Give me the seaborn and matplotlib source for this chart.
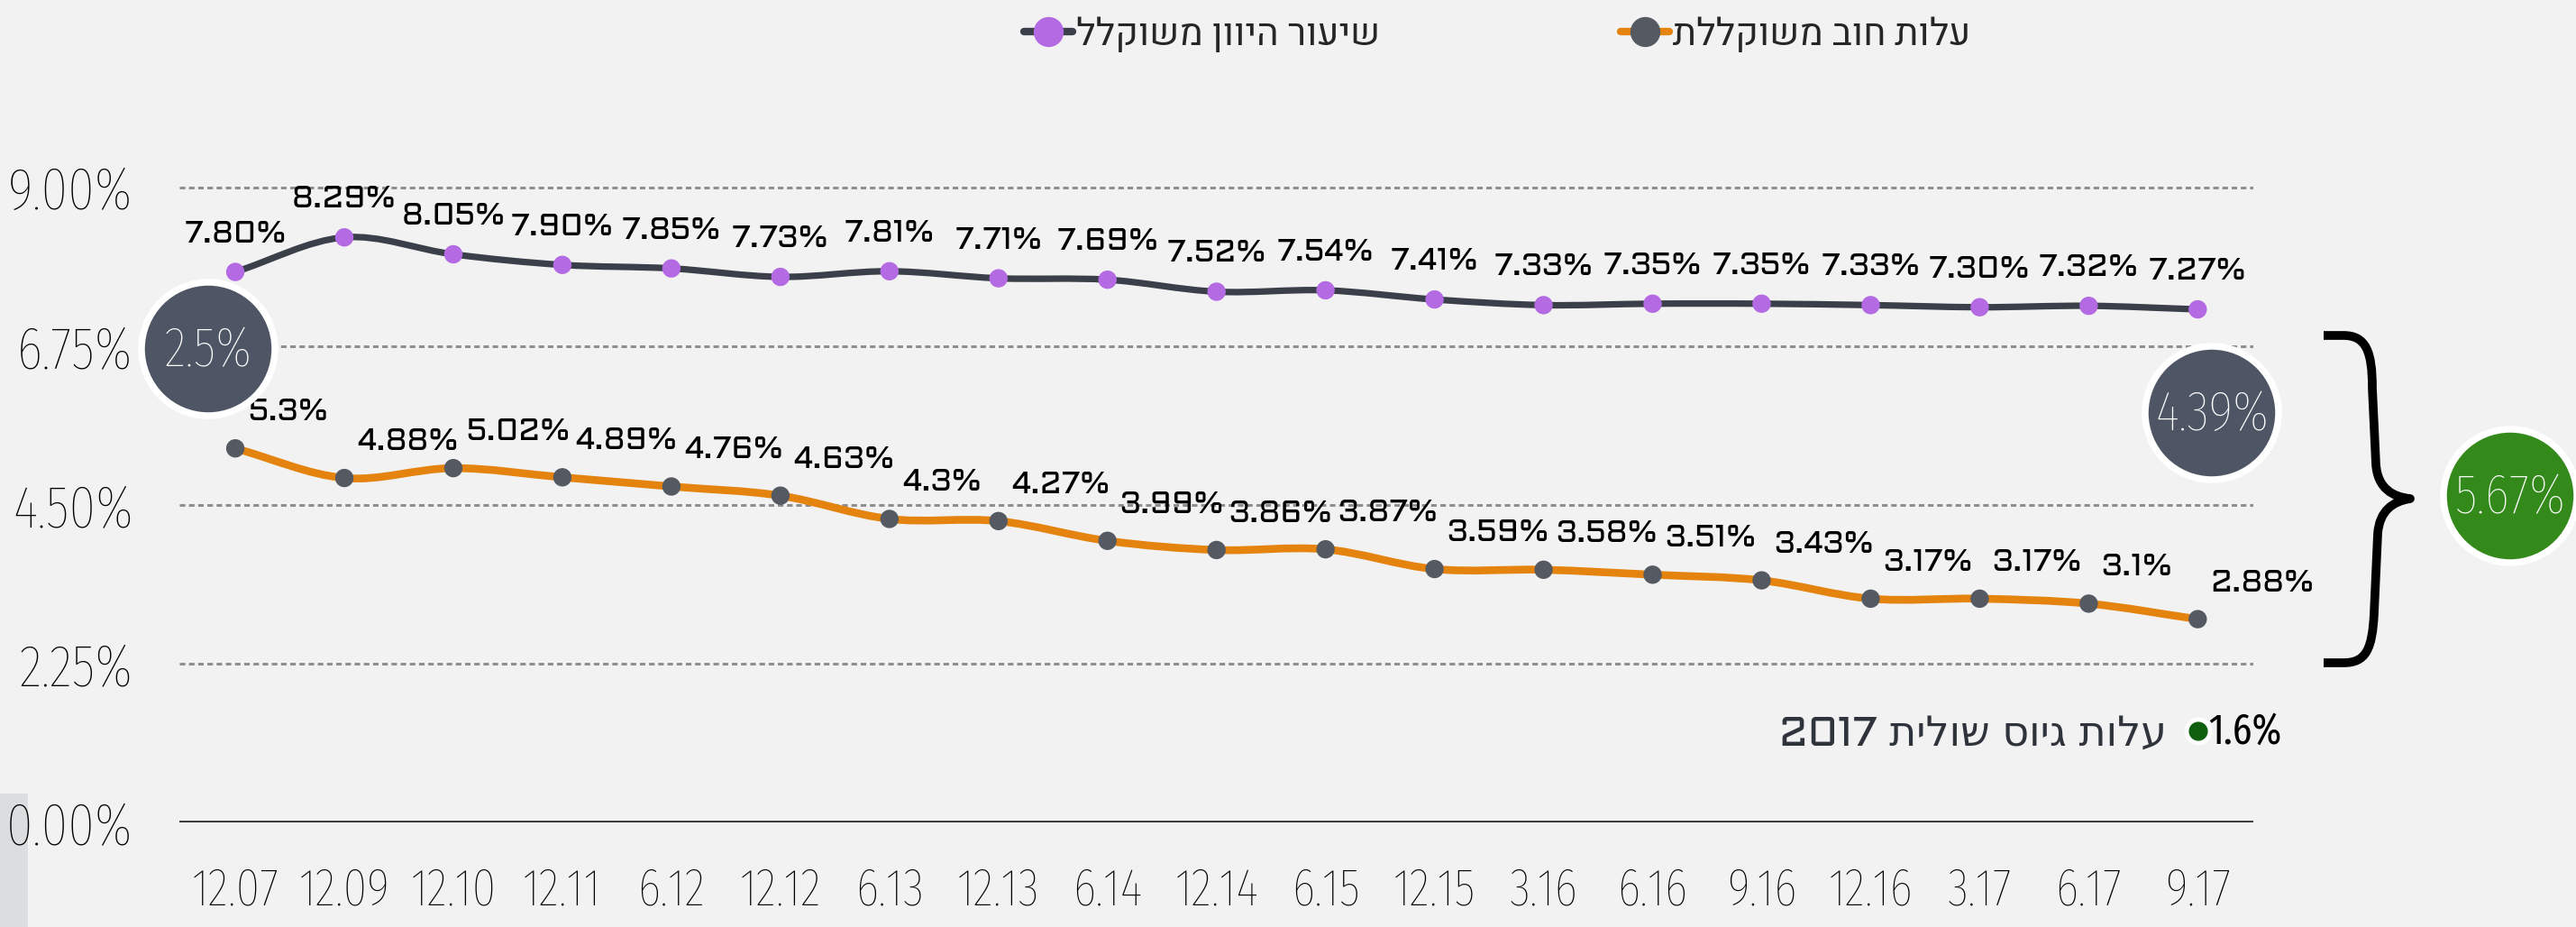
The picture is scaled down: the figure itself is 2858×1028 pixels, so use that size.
import numpy as np
import pandas as pd
import matplotlib
matplotlib.use("Agg")
import matplotlib.pyplot as plt
import seaborn as sns
from matplotlib.path import Path
from matplotlib.patches import PathPatch, Ellipse, Rectangle
from matplotlib.lines import Line2D

# data
periods = ["12.07", "12.09", "12.10", "12.11", "6.12", "12.12", "6.13", "12.13", "6.14", "12.14",
           "6.15", "12.15", "3.16", "6.16", "9.16", "12.16", "3.17", "6.17", "9.17"]
discount_rate = [7.80, 8.29, 8.05, 7.90, 7.85, 7.73, 7.81, 7.71, 7.69, 7.52,
                 7.54, 7.41, 7.33, 7.35, 7.35, 7.33, 7.30, 7.32, 7.27]
debt_cost = [5.3, 4.88, 5.02, 4.89, 4.76, 4.63, 4.3, 4.27, 3.99, 3.86,
             3.87, 3.59, 3.58, 3.51, 3.43, 3.17, 3.17, 3.1, 2.88]
yticks = [0, 2.25, 4.5, 6.75, 9]

name_rate = "שיעור היוון משוקלל"
name_debt = "עלות חוב משוקללת"
note_text = "עלות גיוס שולית"
note_year = "2017"
note_value = "1.6%"
spread_start = "2.5%"
spread_end = "4.39%"
spread_total = "5.67%"

# colours
BG = "#f2f2f2"
DARK = "#3b3f4a"
PURPLE = "#b36ae2"
ORANGE = "#e5830f"
GREYDOT = "#555a62"
BUBBLE = "#4e5564"
GREEN = "#338a1a"

COND = ["Fira Sans Extra Condensed", "Liberation Sans Narrow", "DejaVu Sans"]
SQUARE = ["Aldrich", "DejaVu Sans"]
HEB = ["Fira Sans Extra Condensed", "Heebo", "DejaVu Sans"]


def rtl(s):
    # matplotlib has no bidi support, so hand it the visual order
    return s[::-1]


df = pd.DataFrame({
    "period": periods * 2,
    "value": discount_rate + debt_cost,
    "series": ["rate"] * len(periods) + ["debt"] * len(periods),
})

W, H = 2858, 1028
fig = plt.figure(figsize=(W / 100, H / 100), dpi=100, facecolor=BG)
sns.set_style("white")


def fx(x, y):
    return (x / W, 1 - y / H)


ax = fig.add_axes([199 / W, (H - 912) / H, (2500 - 199) / W, (912 - 40) / H])
ax.set_facecolor("none")


def smooth_line(ys, color, lw, k=1 / 6):
    # catmull-rom style curve through the points
    ys = np.asarray(ys, float)
    n = len(ys)
    yp = np.concatenate([[ys[0]], ys, [ys[-1]]])
    t = (yp[2:] - yp[:-2]) / 2
    t[0] = ys[1] - ys[0]
    t[-1] = ys[-1] - ys[-2]
    verts = [(0, ys[0])]
    codes = [Path.MOVETO]
    for i in range(n - 1):
        verts += [(i + 1 / 3, ys[i] + t[i] * 2 * k), (i + 1 - 1 / 3, ys[i + 1] - t[i + 1] * 2 * k), (i + 1, ys[i + 1])]
        codes += [Path.CURVE4] * 3
    ax.add_patch(PathPatch(Path(verts, codes), fill=False, ec=color, lw=lw, capstyle="round", zorder=2))


smooth_line(discount_rate, DARK, 5.2)
smooth_line(debt_cost, ORANGE, 6.2)

sns.scatterplot(data=df, x="period", y="value", hue="series",
                palette={"rate": PURPLE, "debt": GREYDOT}, s=215, linewidth=0,
                legend=False, zorder=3, ax=ax)

for i, v in enumerate(discount_rate):
    ax.annotate(f"{v:.2f}%", (i, v), xytext=(0, 42), textcoords="offset pixels",
                ha="center", va="center", fontsize=25, family=SQUARE, color="black", zorder=4)
for i, v in enumerate(debt_cost):
    ax.annotate(f"{v:g}%", (i, v), xytext=(14, 40), textcoords="offset pixels",
                ha="left", va="center", fontsize=25, family=SQUARE, color="black", zorder=4)

ax.set_xlim(-0.513, 18.51)
ax.set_ylim(0, 872 / 78.26)
ax.set_yticks(yticks)
ax.set_yticklabels([f"{v:.2f}%" for v in yticks], family=COND, fontweight="light",
                   fontsize=47, color="black")
ax.set_xticks(range(len(periods)))
ax.set_xticklabels(periods, family=COND, fontweight="light", fontsize=42, color="black")
ax.tick_params(axis="y", length=0, pad=37)
ax.tick_params(axis="x", length=0, pad=35)
ax.set_xlabel("")
ax.set_ylabel("")
for sp in ax.spines.values():
    sp.set_visible(False)
ax.yaxis.grid(True, color="#8c8c8c", lw=2.1, ls=(0, (2.1, 1.4)))
ax.xaxis.grid(False)
ax.axhline(0, color="#2b2b2b", lw=2.6, zorder=1)

# bubbles
for (cx, cy), txt, col in [((231, 387), spread_start, BUBBLE),
                           ((2454, 458), spread_end, BUBBLE),
                           ((2785, 550), spread_total, GREEN)]:
    fig.add_artist(Ellipse(fx(cx, cy), 2 * 74 / W, 2 * 74 / H, transform=fig.transFigure,
                           fc=col, ec="white", lw=5.4, zorder=5))
    fig.text(*fx(cx, cy + 2), txt, ha="center", va="center", color="white",
             fontsize=45, family=COND, fontweight="light", zorder=6)

# brace
brace = [(2578, 372), (2600, 372), (2625, 372), (2632, 390), (2632, 430),
         (2636, 515), (2638, 542), (2655, 551), (2674, 553),
         (2655, 556), (2640, 566), (2638, 592),
         (2634, 680), (2632, 720), (2625, 735), (2600, 735), (2578, 735)]
bcodes = [Path.MOVETO, Path.LINETO, Path.CURVE4, Path.CURVE4, Path.CURVE4,
          Path.LINETO, Path.CURVE4, Path.CURVE4, Path.CURVE4,
          Path.CURVE4, Path.CURVE4, Path.CURVE4,
          Path.LINETO, Path.CURVE4, Path.CURVE4, Path.CURVE4, Path.LINETO]
fig.add_artist(PathPatch(Path([fx(*p) for p in brace], bcodes), transform=fig.transFigure,
                         fill=False, ec="black", lw=7, joinstyle="round", zorder=5))

# note under the lines
fig.text(*fx(2404, 815), note_year + " " + rtl(note_text), ha="right", va="center",
         fontsize=33, family=SQUARE + ["Heebo"], color="#2f333b")
fig.add_artist(Ellipse(fx(2439, 811), 26 / W, 26 / H, transform=fig.transFigure,
                       fc="#0f5f0f", ec="white", lw=3.5, zorder=5))
fig.text(*fx(2450, 812), note_value, ha="left", va="center", fontsize=34,
         family=COND, color="black")

# grey tab bottom-left
fig.add_artist(Rectangle((0, 0), 31 / W, (H - 880) / H, transform=fig.transFigure,
                         fc="#dcdddf", ec="none", zorder=0))

# legend, two items placed side by side
h_rate = Line2D([0], [0], color=DARK, lw=6, marker="o", markersize=24,
                markerfacecolor=PURPLE, markeredgewidth=0)
h_debt = Line2D([0], [0], color=ORANGE, lw=6, marker="o", markersize=24,
                markerfacecolor=GREYDOT, markeredgewidth=0)
for h, lab, x0 in [(h_rate, name_rate, 1136), (h_debt, name_debt, 1798)]:
    fig.legend([h], [rtl(lab)], loc="center left", bbox_to_anchor=fx(x0, 38),
               frameon=False, borderpad=0, borderaxespad=0, handlelength=1.3,
               handletextpad=0.1, prop={"family": HEB, "size": 30, "weight": "light"})

fig.savefig("out.png", dpi=100, facecolor=BG)
